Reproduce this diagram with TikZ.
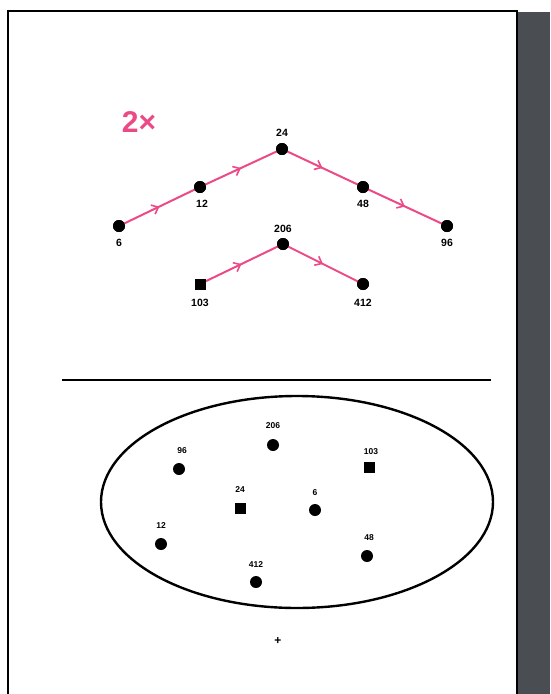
\documentclass[tikz,border=0pt]{standalone}
\usepackage{fontspec}
\setmainfont{Liberation Sans}
\usetikzlibrary{decorations.markings,arrows.meta,shapes.geometric}
\definecolor{pinkc}{HTML}{EC4A86}
\definecolor{shadowc}{HTML}{4A4E52}
\begin{document}
\begin{tikzpicture}[x=1pt,y=-1pt,
  dot/.style={circle,fill=black,inner sep=0pt,minimum size=12pt},
  sqdot/.style={rectangle,fill=black,inner sep=0pt,minimum width=11pt,minimum height=11pt},
  lbl/.style={font=\fontsize{10.5}{10.5}\selectfont\bfseries,inner sep=1pt},
  slbl/.style={font=\fontsize{8.5}{8.5}\selectfont\bfseries,inner sep=0.5pt},
  edge/.style={draw=pinkc,line width=2pt,
    postaction={decorate,decoration={markings,mark=at position 0.5 with {\arrow[pinkc,line width=1.6pt]{Straight Barb[length=6pt,width=10pt]}}}}}]
\useasboundingbox (0,0) rectangle (550,694);
\clip (0,0) rectangle (550,694);
% frame and shadow
\fill[shadowc] (518,12) rectangle (550,694);
\draw[line width=2pt] (8,11) rectangle (517,710);
% title
\node[font=\fontsize{30}{30}\selectfont\bfseries,text=pinkc] (title) at (139,122) {2×};
% top tree
\node[dot] (n6) at (119,226) {};
\node[lbl] (l6) at (119,243) {6};
\node[dot] (n12) at (200,187) {};
\node[lbl] (l12) at (202,204) {12};
\node[dot] (n24) at (282,149) {};
\node[lbl] (l24) at (282,133) {24};
\node[dot] (n48) at (363,187) {};
\node[lbl] (l48) at (363,204) {48};
\node[dot] (n96) at (447,226) {};
\node[lbl] (l96) at (447,243) {96};
\node[dot] (n206) at (283,244) {};
\node[lbl] (l206) at (283,229) {206};
\node[sqdot] (n103) at (200,284) {};
\node[lbl] (l103) at (200,303) {103};
\node[dot] (n412) at (363,284) {};
\node[lbl] (l412) at (363,303) {412};
\path[edge] (n6.center) -- (n12.center);
\path[edge] (n12.center) -- (n24.center);
\path[edge] (n24.center) -- (n48.center);
\path[edge] (n48.center) -- (n96.center);
\path[edge] (n103.center) -- (n206.center);
\path[edge] (n206.center) -- (n412.center);
\foreach \n in {n6,n12,n24,n48,n96,n206,n412}{\node[dot] at (\n) {};}
\node[sqdot] at (n103) {};
% divider
\coordinate (dl) at (62,380);
\coordinate (dr) at (491,380);
\draw[line width=1.6pt] (dl) -- (dr);
% set ellipse
\node[draw,line width=2.4pt,ellipse,minimum width=392pt,minimum height=212pt,inner sep=0pt] (set) at (297,502) {};
\node[dot] (e206) at (273,445) {};
\node[slbl] at (273,426) {206};
\node[dot] (e96) at (179,469) {};
\node[slbl] at (182,451) {96};
\node[sqdot] (e103) at (369,467) {};
\node[slbl] at (371,452) {103};
\node[sqdot] (e24) at (240,508) {};
\node[slbl] at (240,490) {24};
\node[dot] (e6) at (315,510) {};
\node[slbl] at (315,493) {6};
\node[dot] (e12) at (161,544) {};
\node[slbl] at (161,526) {12};
\node[dot] (e48) at (367,556) {};
\node[slbl] at (369,538) {48};
\node[dot] (e412) at (256,582) {};
\node[slbl] at (256,565) {412};
\node[font=\fontsize{12}{12}\selectfont\bfseries,inner sep=0pt] (plus) at (278,641) {+};
\end{tikzpicture}
\end{document}
